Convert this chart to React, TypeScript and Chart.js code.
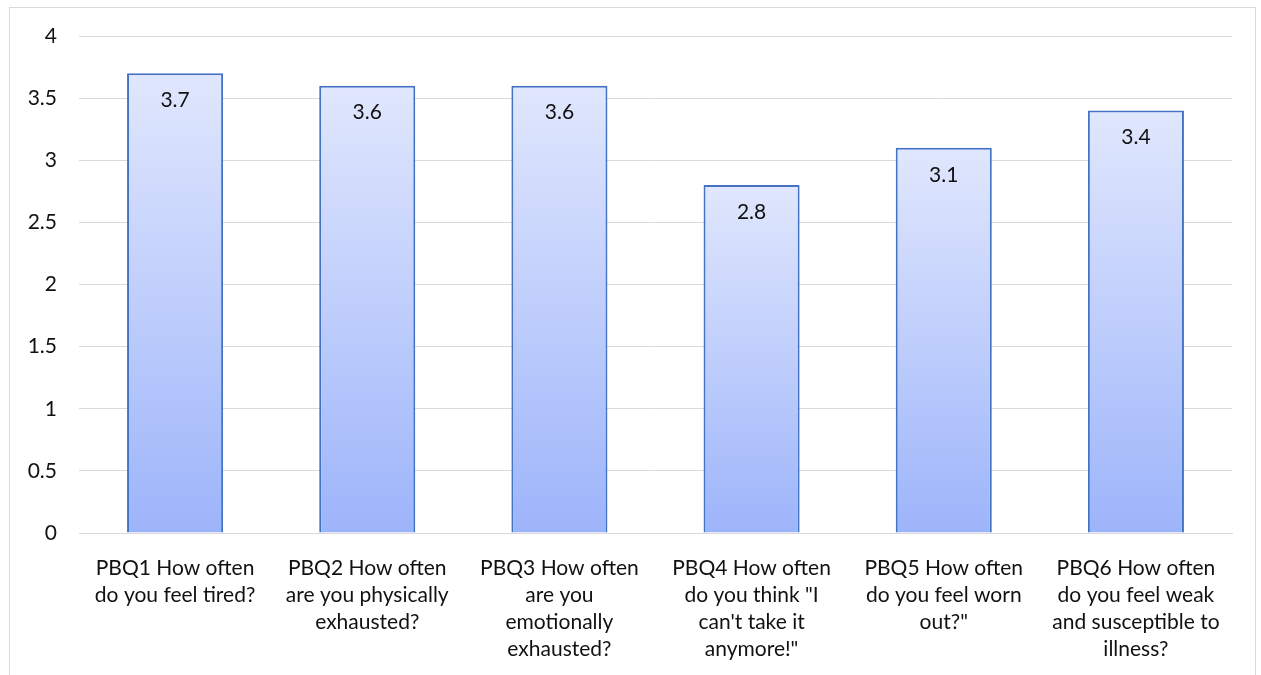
import { useEffect, useRef } from "react";
import { Chart, registerables } from "chart.js";
Chart.register(...registerables);

const categories: string[][] = [
  ["PBQ1 How often", "do you feel tired?"],
  ["PBQ2 How often", "are you physically", "exhausted?"],
  ["PBQ3 How often", "are you", "emotionally", "exhausted?"],
  ["PBQ4 How often", "do you think \"I", "can't take it", "anymore!\""],
  ["PBQ5 How often", "do you feel worn", "out?\""],
  ["PBQ6 How often", "do you feel weak", "and susceptible to", "illness?"],
];
const values: number[] = [3.7, 3.6, 3.6, 2.8, 3.1, 3.4];
const yMin = 0;
const yMax = 4;
const yStep = 0.5;

const FONT = "Lato, 'Open Sans', sans-serif";

export default function App() {
  const ref = useRef<HTMLCanvasElement | null>(null);
  useEffect(() => {
    if (!ref.current) return;
    const borderPlugin = {
      id: "frame",
      beforeDraw(chart: any) {
        const c = chart.ctx;
        c.save();
        c.fillStyle = "#ffffff";
        c.fillRect(0, 0, chart.width, chart.height);
        c.strokeStyle = "#d9d9d9";
        c.lineWidth = 1;
        c.strokeRect(9.5, 7.5, 1246, 700);
        c.restore();
      },
    };
    const labelPlugin = {
      id: "valueLabels",
      afterDatasetsDraw(chart: any) {
        const c = chart.ctx;
        const meta = chart.getDatasetMeta(0);
        c.save();
        c.font = `21px ${FONT}`;
        c.fillStyle = "#111111";
        c.textAlign = "center";
        c.textBaseline = "middle";
        meta.data.forEach((el: any, i: number) => {
          c.fillText(String(values[i]), el.x, el.y + 27);
        });
        c.restore();
      },
    };
    const chart = new Chart(ref.current, {
      type: "bar",
      data: {
        labels: categories,
        datasets: [
          {
            data: values,
            backgroundColor: (ctx: any) => {
              const chart = ctx.chart;
              const ys = chart.scales?.y;
              if (!ys || ctx.raw === undefined) return "#b8c9fb";
              const top = ys.getPixelForValue(ctx.raw);
              const bot = ys.getPixelForValue(0);
              if (!isFinite(top) || !isFinite(bot)) return "#b8c9fb";
              const g = chart.ctx.createLinearGradient(0, top, 0, bot);
              g.addColorStop(0, "#e0e7fd");
              g.addColorStop(1, "#9db4fa");
              return g;
            },
            borderColor: "#4472c4",
            borderWidth: { top: 2, left: 2, right: 2, bottom: 0 },
            borderSkipped: false,
            barPercentage: 0.5,
            categoryPercentage: 1,
          },
        ],
      },
      options: {
        animation: false,
        responsive: false,
        maintainAspectRatio: false,
        layout: { padding: { left: 0, right: 29, top: 36, bottom: 0 } },
        plugins: { legend: { display: false }, tooltip: { enabled: false } },
        scales: {
          x: {
            grid: { display: false },
            border: { display: true, color: "#d9d9d9", width: 1 },
            ticks: {
              color: "#111111",
              font: { family: FONT, size: 21, lineHeight: 27 / 21 },
              padding: 14,
              maxRotation: 0,
              minRotation: 0,
              autoSkip: false,
            },
            afterFit: (s: any) => {
              s.height = 142;
            },
          },
          y: {
            min: yMin,
            max: yMax,
            border: { display: false },
            grid: { color: "#d9d9d9", lineWidth: 1, drawTicks: false },
            ticks: {
              stepSize: yStep,
              color: "#111111",
              font: { family: FONT, size: 21 },
              padding: 22,
              callback: (v: any) => String(Number(v)),
            },
            afterFit: (s: any) => {
              s.width = 79;
            },
          },
        },
      },
      plugins: [borderPlugin, labelPlugin],
    });
    return () => chart.destroy();
  }, []);
  return (
    <div style={{ position: "absolute", left: 0, top: 0, width: 1261, height: 675 }}>
      <canvas ref={ref} width={1261} height={675} style={{ width: 1261, height: 675, display: "block" }} />
    </div>
  );
}
